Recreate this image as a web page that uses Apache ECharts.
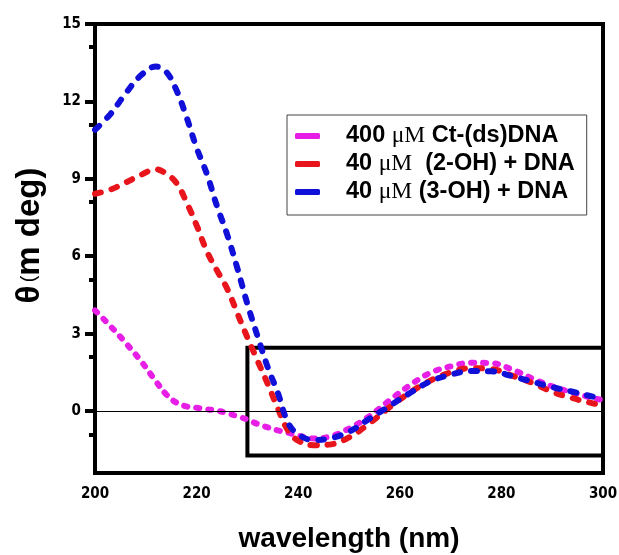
<!DOCTYPE html>
<html>
<head>
<meta charset="utf-8">
<script src="https://cdn.jsdelivr.net/npm/echarts@6/dist/echarts.min.js"></script>
<style>html,body{margin:0;padding:0;background:#fff;}#c{width:619px;height:555px;}</style>
</head>
<body>
<div id="c"></div>
<script>
const wavelength = [200,203,206,209,212,214,216,218,220,222,224,226,228,230,232,234,236,238,240,243,246,250,254,258,262,266,270,274,278,282,286,290,294,298,300];
const ctDNA = [3.9,3.3,2.65,1.95,1.15,0.65,0.33,0.18,0.13,0.07,0.02,-0.08,-0.2,-0.33,-0.5,-0.63,-0.75,-0.84,-0.95,-1.06,-1.0,-0.68,-0.2,0.42,1.0,1.48,1.73,1.87,1.86,1.62,1.27,0.96,0.72,0.5,0.43];
const oh2DNA = [8.42,8.58,8.85,9.15,9.37,9.2,8.85,8.1,7.2,6.2,5.45,4.75,3.8,2.85,1.95,1.05,0.1,-0.75,-1.15,-1.32,-1.3,-1.02,-0.48,0.15,0.72,1.18,1.5,1.66,1.63,1.38,1.1,0.75,0.5,0.3,0.22];
const oh3DNA = [10.9,11.5,12.3,13.0,13.35,13.15,12.45,11.4,10.2,9.2,7.95,6.85,5.55,4.15,2.9,1.7,0.7,-0.45,-0.9,-1.12,-1.07,-0.8,-0.3,0.2,0.7,1.15,1.41,1.55,1.54,1.36,1.14,0.93,0.75,0.56,0.48];
const seriesNames = ['400 μM Ct-(ds)DNA','40 μM  (2-OH) + DNA','40 μM (3-OH) + DNA'];
const seriesColors = ['#e61ee6','#e8161c','#1010d8'];
const xTicks = [200,220,240,260,280,300];
const yTicks = [0,3,6,9,12,15];
const boxX = [230,300];
const boxY = [-1.72,2.45];

const pairs = arr => wavelength.map((w,i)=>[w,arr[i]]);
const values = [ctDNA, oh2DNA, oh3DNA];
const dashes = [[3,9],[6,11],[6,11]];

const series = values.map((v,i)=>({
  name: seriesNames[i],
  type: 'line',
  data: pairs(v),
  smooth: 0.4,
  symbol: 'none',
  z: 3 + i,
  lineStyle: {color: seriesColors[i], width: 6, type: dashes[i], cap: 'round'},
  itemStyle: {color: seriesColors[i]}
}));
series[0].markLine = {
  silent: true, symbol: 'none', label: {show:false},
  lineStyle: {color:'#000', width:1, type:'solid'},
  data: [{yAxis: 0}]
};
series[0].markArea = {
  silent: true, label: {show:false},
  itemStyle: {color:'rgba(0,0,0,0)', borderColor:'#000', borderWidth:4},
  data: [[{coord:[boxX[0], boxY[1]]},{coord:[boxX[1], boxY[0]]}]]
};

const chart = echarts.init(document.getElementById('c'), null, {renderer:'canvas'});
chart.setOption({
  animation: false,
  backgroundColor: '#fff',
  grid: {left: 95, right: 16, top: 24, bottom: 82, outerBoundsMode: 'none', containLabel: false,
    show: true, borderColor: '#000', borderWidth: 4, backgroundColor: 'transparent'},
  legend: {
    left: 287, top: 115,
    orient: 'vertical',
    icon: 'roundRect',
    itemWidth: 25, itemHeight: 6,
    itemGap: 0,
    padding: [7, 12, 9, 8],
    borderColor: '#444', borderWidth: 1,
    backgroundColor: '#fff',
    data: seriesNames,
    formatter: n => n.replace('μM', '{m|μM}'),
    textStyle: {
      color: '#000', fontFamily: 'Liberation Sans, Arial, sans-serif', fontWeight: 'bold', fontSize: 23.5, lineHeight: 28,
      padding: [0, 0, 0, 21],
      rich: {m: {fontFamily: 'Liberation Serif, Times New Roman, serif', fontWeight: 'normal', fontSize: 23.5, lineHeight: 28, color:'#000'}}
    }
  },
  xAxis: {
    type: 'value', min: 200, max: 300, interval: 20,
    name: 'wavelength (nm)', nameLocation: 'middle', nameGap: 52,
    nameTextStyle: {fontFamily: 'Liberation Sans, Arial, sans-serif', fontWeight: 'bold', fontSize: 28, color: '#000'},
    axisLine: {onZero: false, lineStyle: {color: '#000', width: 4}},
    axisTick: {show: false},
    splitLine: {show: false},
    axisLabel: {margin: 14, color: '#000', fontFamily: 'Liberation Sans Narrow, DejaVu Sans Condensed, sans-serif', fontWeight: 'bold', fontSize: 15,
      formatter: v => xTicks.includes(v) ? String(v) : ''}
  },
  yAxis: {
    type: 'value', min: -2.4, max: 15,
    interval: 3,
    name: '{t|θ} {p|(}{t|m deg)}', nameLocation: 'middle', nameGap: 49,
    nameTextStyle: {color:'#000', padding: [0, 0, 0, 26], rich: {
      t: {fontFamily: 'Liberation Sans, Arial, sans-serif', fontWeight: 'bold', fontSize: 33, color:'#000'},
      p: {fontFamily: 'Liberation Sans, Arial, sans-serif', fontWeight: 'normal', fontSize: 20, color:'#000'}
    }},
    axisLine: {onZero: false, lineStyle: {color: '#000', width: 4}},
    axisTick: {show: true, length: 10, lineStyle: {width: 4, color:'#000'}, customValues: yTicks},
    minorTick: {show: true, splitNumber: 2, length: 6, lineStyle: {width: 4, color:'#000'}},
    splitLine: {show: false},
    axisLabel: {margin: 14, color: '#000', fontFamily: 'Liberation Sans Narrow, DejaVu Sans Condensed, sans-serif', fontWeight: 'bold', fontSize: 15,
      customValues: yTicks}
  },
  series: series
});
</script>
</body>
</html>
